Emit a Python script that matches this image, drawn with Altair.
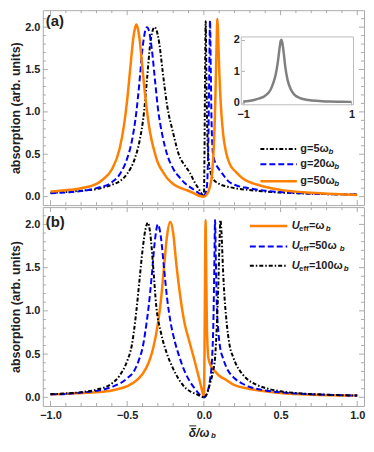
import altair as alt
import pandas as pd

# ---------------- data ----------------
# panel (a)
a_black_x = [-1.0, -0.9, -0.8, -0.7, -0.6, -0.55, -0.5, -0.45, -0.42, -0.39, -0.37, -0.35, -0.33, -0.32, -0.31,
             -0.29, -0.27, -0.24, -0.2, -0.16, -0.125, -0.094, -0.06, -0.03, -0.01, 0.0, 0.004, 0.008, 0.012,
             0.016, 0.022, 0.03, 0.045, 0.06, 0.1, 0.15, 0.2, 0.29, 0.4, 0.6, 0.8, 1.0]
a_black_y = [0.045, 0.055, 0.07, 0.09, 0.14, 0.18, 0.27, 0.45, 0.65, 1.0, 1.4, 1.8, 1.98, 2.0, 1.97,
             1.8, 1.5, 1.08, 0.75, 0.48, 0.37, 0.29, 0.17, 0.08, 0.02, 0.0, 0.5, 1.5, 2.07,
             1.5, 0.8, 0.45, 0.28, 0.21, 0.15, 0.12, 0.1, 0.08, 0.06, 0.04, 0.03, 0.025]

a_blue_x = [-1.0, -0.9, -0.8, -0.7, -0.6, -0.55, -0.5, -0.47, -0.44, -0.42, -0.4, -0.38, -0.37, -0.36, -0.34,
            -0.32, -0.3, -0.27, -0.24, -0.2, -0.16, -0.125, -0.08, -0.04, -0.01, 0.0, 0.01, 0.02, 0.03, 0.035,
            0.04, 0.045, 0.05, 0.06, 0.08, 0.1, 0.125, 0.16, 0.2, 0.29, 0.4, 0.6, 0.8, 1.0]
a_blue_y = [0.04, 0.05, 0.065, 0.1, 0.17, 0.26, 0.45, 0.65, 1.0, 1.35, 1.75, 1.97, 2.0, 1.97, 1.75,
            1.4, 1.05, 0.72, 0.5, 0.33, 0.23, 0.16, 0.1, 0.05, 0.01, 0.005, 0.04, 0.12, 0.75, 1.45,
            2.08, 1.5, 0.9, 0.5, 0.38, 0.32, 0.26, 0.18, 0.14, 0.1, 0.07, 0.045, 0.03, 0.025]

a_orange_x = [-1.0, -0.9, -0.8, -0.7, -0.66, -0.6, -0.55, -0.52, -0.5, -0.48, -0.46, -0.45, -0.44, -0.43, -0.42,
              -0.41, -0.39, -0.37, -0.35, -0.325, -0.3, -0.27, -0.24, -0.2, -0.15, -0.11, -0.07, -0.03, 0.0,
              0.02, 0.04, 0.055, 0.065, 0.072, 0.078, 0.083, 0.088, 0.093, 0.1, 0.11, 0.125, 0.145, 0.17,
              0.21, 0.25, 0.3, 0.39, 0.5, 0.7, 0.85, 1.0]
a_orange_y = [0.06, 0.075, 0.1, 0.15, 0.2, 0.32, 0.56, 0.85, 1.14, 1.51, 1.87, 1.98, 2.03, 1.98, 1.87,
              1.7, 1.32, 1.0, 0.75, 0.55, 0.4, 0.3, 0.22, 0.15, 0.1, 0.075, 0.045, 0.01, 0.0,
              0.03, 0.12, 0.3, 0.6, 0.95, 1.4, 1.8, 2.1, 1.9, 1.5, 1.1, 0.75, 0.52, 0.38,
              0.29, 0.22, 0.17, 0.12, 0.08, 0.045, 0.03, 0.02]

# inset of panel (a)
inset_x = [-1.0, -0.9, -0.8, -0.7, -0.6, -0.5, -0.45, -0.4, -0.36, -0.33, -0.31, -0.295, -0.28, -0.25, -0.22,
           -0.18, -0.12, -0.05, 0.05, 0.2, 0.4, 0.6, 0.8, 1.0]
inset_y = [0.04, 0.06, 0.09, 0.14, 0.22, 0.4, 0.6, 0.9, 1.3, 1.72, 1.95, 2.0, 1.93, 1.55, 1.1,
           0.72, 0.42, 0.25, 0.15, 0.09, 0.06, 0.04, 0.035, 0.03]

# panel (b)
b_orange_x = [-1.0, -0.9, -0.8, -0.7, -0.6, -0.5, -0.45, -0.4, -0.36, -0.33, -0.3, -0.28, -0.26, -0.24, -0.22,
              -0.2, -0.18, -0.16, -0.14, -0.125, -0.1, -0.08, -0.06, -0.04, -0.02, -0.005, 0.0, 0.004, 0.008,
              0.011, 0.014, 0.02, 0.03, 0.05, 0.073, 0.1, 0.146, 0.2, 0.29, 0.4, 0.5, 0.7, 1.0]
b_orange_y = [0.035, 0.04, 0.05, 0.06, 0.08, 0.13, 0.18, 0.27, 0.4, 0.57, 0.85, 1.12, 1.5, 1.87, 2.03,
              1.9, 1.55, 1.25, 1.0, 0.85, 0.68, 0.55, 0.42, 0.28, 0.14, 0.03, 0.0, 0.5, 1.5,
              2.05, 1.7, 0.8, 0.45, 0.35, 0.3, 0.25, 0.2, 0.14, 0.1, 0.07, 0.05, 0.03, 0.02]

b_blue_x = [-1.0, -0.9, -0.8, -0.7, -0.6, -0.5, -0.45, -0.42, -0.4, -0.38, -0.36, -0.34, -0.32, -0.3, -0.28,
            -0.26, -0.24, -0.22, -0.19, -0.16, -0.125, -0.09, -0.05, -0.02, 0.0, 0.02, 0.04, 0.055, 0.063,
            0.068, 0.073, 0.078, 0.085, 0.095, 0.104, 0.125, 0.146, 0.2, 0.25, 0.3, 0.4, 0.6, 0.8, 1.0]
b_blue_y = [0.035, 0.04, 0.055, 0.075, 0.12, 0.22, 0.32, 0.45, 0.57, 0.78, 1.05, 1.4, 1.8, 2.0, 1.85,
            1.5, 1.15, 0.9, 0.65, 0.47, 0.3, 0.18, 0.08, 0.02, 0.0, 0.05, 0.2, 0.5, 0.95,
            1.5, 2.05, 1.6, 1.05, 0.75, 0.6, 0.45, 0.35, 0.22, 0.16, 0.12, 0.08, 0.045, 0.03, 0.02]

b_black_x = [-1.0, -0.9, -0.8, -0.7, -0.6, -0.55, -0.5, -0.47, -0.44, -0.42, -0.4, -0.38, -0.365, -0.35, -0.33,
             -0.31, -0.28, -0.24, -0.2, -0.16, -0.115, -0.08, -0.04, -0.01, 0.0, 0.02, 0.04, 0.06, 0.073,
             0.085, 0.094, 0.102, 0.108, 0.115, 0.125, 0.135, 0.146, 0.167, 0.19, 0.208, 0.25, 0.29, 0.35,
             0.417, 0.5, 0.6, 0.8, 1.0]
b_black_y = [0.035, 0.045, 0.06, 0.09, 0.16, 0.25, 0.42, 0.6, 1.0, 1.35, 1.7, 1.95, 2.02, 1.9, 1.5,
             1.05, 0.75, 0.5, 0.33, 0.2, 0.1, 0.06, 0.03, 0.005, 0.0, 0.04, 0.16, 0.3, 0.46,
             0.85, 1.28, 1.8, 2.05, 1.9, 1.47, 1.15, 0.91, 0.61, 0.47, 0.39, 0.27, 0.2, 0.14,
             0.1, 0.07, 0.05, 0.03, 0.02]

# axis ticks / labels
x_major_ticks = [-1.0, -0.5, 0.0, 0.5, 1.0]
x_minor_ticks = [-0.9, -0.8, -0.7, -0.6, -0.4, -0.3, -0.2, -0.1, 0.1, 0.2, 0.3, 0.4, 0.6, 0.7, 0.8, 0.9]
y_major_ticks = [0.0, 0.5, 1.0, 1.5, 2.0]
y_minor_ticks = [0.1, 0.2, 0.3, 0.4, 0.6, 0.7, 0.8, 0.9, 1.1, 1.2, 1.3, 1.4, 1.6, 1.7, 1.8, 1.9, 2.1]
inset_x_ticks = [-1, 0, 1]
inset_y_ticks = [0, 1, 2]

legend_a = ["g=5ω", "g=20ω", "g=50ω"]
legend_b = ["=ω", "=50ω", "=100ω"]

# ---------------- styling ----------------
FONT = "Liberation Sans"
FRAME = "#aaaaaa"
LABEL = "#222222"
ORANGE = "#ff8000"
BLUE = "#0000ff"
BLACK = "#000000"
DASH_BLUE = [6, 3]
DASH_BLACK = [4, 2, 1.5, 2]

W = 323
HA = 196
HB = 200

xscale = alt.Scale(domain=[-1.05, 1.044], nice=False, zero=False)
yscale = alt.Scale(domain=[-0.1, 2.2], nice=False, zero=False)

y_axis = alt.Axis(values=y_major_ticks, format=".1f", ticks=False, domain=False, grid=False,
                  labelFont=FONT, labelFontSize=11, labelFontWeight="bold", labelColor=LABEL,
                  labelPadding=3, minExtent=0, title="absorption (arb. units)", titleFont=FONT,
                  titleFontSize=12.5, titleFontWeight="bold", titleColor=LABEL, titlePadding=2.5)
X_A = alt.X("x:Q", scale=xscale, axis=None)
X_B = alt.X("x:Q", scale=xscale,
            axis=alt.Axis(values=x_major_ticks, format=".1f", ticks=False, domain=False, grid=False,
                          labelFont=FONT, labelFontSize=11, labelFontWeight="bold", labelColor=LABEL,
                          labelPadding=4, labelFlush=False, minExtent=0, title=None))
Y = alt.Y("y:Q", scale=yscale, axis=y_axis)

dummy = alt.Data(values=[{}])


def line(xs, ys, X, color, width, dash=None):
    kw = dict(color=color, strokeWidth=width, interpolate="monotone", clip=True)
    if dash:
        kw["strokeDash"] = dash
    return alt.Chart(pd.DataFrame({"x": xs, "y": ys})).mark_line(**kw).encode(x=X, y=Y)


def frame_ticks(X, H):
    layers = []
    for vals, L in [(x_major_ticks, 5), (x_minor_ticks, 3)]:
        d = pd.DataFrame({"x": vals})
        layers.append(alt.Chart(d).mark_rule(color=FRAME, strokeWidth=1).encode(
            x=X, y=alt.value(H), y2=alt.value(H - L)))
        layers.append(alt.Chart(d).mark_rule(color=FRAME, strokeWidth=1).encode(
            x=X, y=alt.value(0), y2=alt.value(L)))
    for vals, L in [(y_major_ticks, 5), (y_minor_ticks, 3)]:
        d = pd.DataFrame({"y": vals})
        layers.append(alt.Chart(d).mark_rule(color=FRAME, strokeWidth=1).encode(
            y=Y, x=alt.value(0), x2=alt.value(L)))
        layers.append(alt.Chart(d).mark_rule(color=FRAME, strokeWidth=1).encode(
            y=Y, x=alt.value(W), x2=alt.value(W - L)))
    return layers


def seg(x1, x2, y, color, width, dash=None):
    kw = dict(color=color, strokeWidth=width)
    if dash:
        kw["strokeDash"] = dash
    return alt.Chart(dummy).mark_rule(**kw).encode(x=alt.value(x1), x2=alt.value(x2), y=alt.value(y))


def txt(s, x, y, size=11, weight="bold", style="normal", align="left"):
    return alt.Chart(dummy).mark_text(text=s, font=FONT, fontSize=size, fontWeight=weight, fontStyle=style,
                                      color=LABEL, align=align, baseline="middle").encode(
        x=alt.value(x), y=alt.value(y))


# ---------------- panel (a) ----------------
IL, IR, IT, IB = 199.6, 312.4, 26.9, 95.1   # inset frame inside panel (a)
leg_a_y = [139.5, 155, 172]
LA0, LA1, TA = 218.8, 255.5, 259.0
main_a = alt.layer(
    *frame_ticks(X_A, HA),
    line(a_black_x, a_black_y, X_A, BLACK, 2, DASH_BLACK),
    line(a_blue_x, a_blue_y, X_A, BLUE, 2, DASH_BLUE),
    line(a_orange_x, a_orange_y, X_A, ORANGE, 2.5),
    alt.Chart(dummy).mark_rect(fillOpacity=0, stroke="#bbbbbb", strokeWidth=1).encode(
        x=alt.value(IL), x2=alt.value(IR), y=alt.value(IT), y2=alt.value(IB)),
    txt("(a)", 3, 11, size=15),
    seg(LA0, LA1, leg_a_y[0], BLACK, 2, DASH_BLACK),
    seg(LA0, LA1, leg_a_y[1], BLUE, 2, DASH_BLUE),
    seg(LA0, LA1, leg_a_y[2], ORANGE, 2.5),
    txt(legend_a[0], TA, leg_a_y[0]),
    txt(legend_a[1], TA, leg_a_y[1]),
    txt(legend_a[2], TA, leg_a_y[2]),
    txt("b", TA + 28.3, leg_a_y[0] + 3, size=8, style="italic"),
    txt("b", TA + 34, leg_a_y[1] + 3, size=8, style="italic"),
    txt("b", TA + 34, leg_a_y[2] + 3, size=8, style="italic"),
)

inset = alt.Chart(pd.DataFrame({"x": inset_x, "y": inset_y})).mark_line(
    color="#808080", strokeWidth=2.5, interpolate="monotone").encode(
    x=alt.X("x:Q", scale=alt.Scale(domain=[-1.035, 1.035], range=[IL, IR], nice=False, zero=False),
            axis=alt.Axis(orient="bottom", offset=(IB - 3) - HA, values=inset_x_ticks, format="d", tickSize=3,
                          tickColor=FRAME, domain=False, grid=False, labelFont=FONT, labelFontSize=11,
                          labelFontWeight="bold", labelColor=LABEL, labelPadding=4, labelFlush=False,
                          minExtent=0, title=None)),
    y=alt.Y("y:Q", scale=alt.Scale(domain=[-0.062, 2.09], range=[IB, IT], nice=False, zero=False),
            axis=alt.Axis(orient="left", offset=-(IL + 3), values=inset_y_ticks, format="d", tickSize=3,
                          tickColor=FRAME, domain=False, grid=False, labelFont=FONT, labelFontSize=11,
                          labelFontWeight="bold", labelColor=LABEL, labelPadding=2, labelFlush=False,
                          minExtent=0, title=None)),
)

panel_a = alt.layer(main_a, inset).resolve_scale(x="independent", y="independent").properties(
    width=W, height=HA)

# ---------------- panel (b) ----------------
leg_b_y = [19, 39.5, 59]
LB0, LB1, UB = 208.2, 245.8, 250.3
panel_b = alt.layer(
    *frame_ticks(X_B, HB),
    line(b_orange_x, b_orange_y, X_B, ORANGE, 2.5),
    line(b_blue_x, b_blue_y, X_B, BLUE, 2, DASH_BLUE),
    line(b_black_x, b_black_y, X_B, BLACK, 2, DASH_BLACK),
    txt("(b)", 3, 15, size=15),
    seg(LB0, LB1, leg_b_y[0], ORANGE, 2.5),
    seg(LB0, LB1, leg_b_y[1], BLUE, 2, DASH_BLUE),
    seg(LB0, LB1, leg_b_y[2], BLACK, 2, DASH_BLACK),
    *[txt("U", UB, yy, style="italic") for yy in leg_b_y],
    *[txt("eff", UB + 7.3, yy + 3, size=8) for yy in leg_b_y],
    txt(legend_b[0], UB + 17.3, leg_b_y[0]),
    txt(legend_b[1], UB + 17.3, leg_b_y[1]),
    txt(legend_b[2], UB + 17.3, leg_b_y[2]),
    txt("b", UB + 34.3, leg_b_y[0] + 3, size=8, style="italic"),
    txt("b", UB + 48.3, leg_b_y[1] + 3, size=8, style="italic"),
    txt("b", UB + 52.3, leg_b_y[2] + 3, size=8, style="italic"),
    # x-axis title: delta-bar / omega_b
    txt("δ/ω", 146.8, HB + 27, size=12, style="italic"),
    txt("b", 169.2, HB + 30, size=8, style="italic"),
    seg(147.3, 154.3, HB + 20, LABEL, 1),
).properties(width=W, height=HB)

chart = alt.vconcat(panel_a, panel_b, spacing=0).properties(
    padding={"left": 0, "top": 0, "right": 0, "bottom": 0},
    background="white",
).configure_view(stroke=FRAME, strokeWidth=1)

chart.save("out.html", embed_options={"renderer": "svg", "actions": False})
